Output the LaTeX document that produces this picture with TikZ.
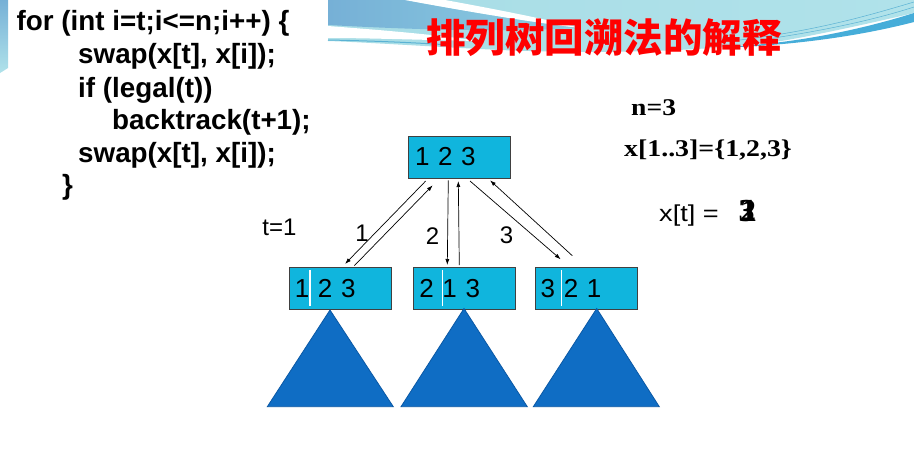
\documentclass[tikz,border=0pt]{standalone}
\usepackage{fontspec}
\usepackage{graphicx}
\setmainfont{Liberation Sans}
\newfontfamily\serifb{Liberation Serif}
\newfontfamily\cjk{Noto Sans CJK SC}
\usetikzlibrary{arrows.meta}
\definecolor{boxcyan}{RGB}{16,181,221}
\definecolor{triblue}{RGB}{15,109,196}
\definecolor{triedge}{RGB}{10,88,165}
\definecolor{swcyan}{RGB}{168,221,230}
\definecolor{swcyanR}{RGB}{176,226,234}
\definecolor{swsteel}{RGB}{118,176,214}
\definecolor{swsteelR}{RGB}{140,206,226}
\definecolor{swdark}{RGB}{70,173,217}
\definecolor{swline}{RGB}{90,178,212}
\tikzset{
  codeline/.style={anchor=base west, inner sep=0pt, font=\bfseries\fontsize{27.8}{32}\selectfont},
  boxnode/.style={draw=black!75, line width=0.8pt, fill=boxcyan, align=left, font=\fontsize{26}{30}\selectfont},
  topbox/.style={boxnode, text width=88pt, inner xsep=7pt, minimum height=42pt},
  lowbox/.style={boxnode, text width=91pt, inner xsep=5.5pt, minimum height=41.7pt},
  arr/.style={line width=0.7pt, -{Latex[length=6pt,width=4pt]}},
  lbl/.style={inner sep=0pt, font=\fontsize{24}{28}\selectfont},
  tri/.style={fill=triblue, draw=triedge, line width=0.8pt, line join=miter},
  sep/.style={draw=white, line width=1.5pt},
  serifbold/.style={anchor=base west, inner sep=0pt, font=\serifb\bfseries\fontsize{24}{28}\selectfont},
  valnode/.style={anchor=base west, inner sep=0pt, font=\serifb\bfseries\fontsize{32}{36}\selectfont}
}
\begin{document}
\begin{tikzpicture}[x=1pt,y=-1pt]
\useasboundingbox (0,0) rectangle (914,453);
\fill[white] (0,0) rectangle (914,453);
% background swoosh
\shade[left color=swcyan, right color=swcyanR]
  (328,0) -- (914,0) -- (914,13) .. controls (850,28) and (800,38) .. (781,41)
  .. controls (700,52) and (600,54) .. (500,50) .. controls (420,46) and (360,42) .. (328,41) -- cycle;
\shade[left color=swsteel, right color=swsteelR]
  (328,0) -- (405,0) .. controls (470,12) and (530,22) .. (580,28)
  .. controls (500,32) and (420,30) .. (328,25) -- cycle;
\fill[white] (405,0) -- (445,0) .. controls (500,10) and (550,20) .. (580,28)
  .. controls (530,22) and (470,12) .. (405,0) -- cycle;
\fill[white] (328,26) .. controls (380,30) and (430,34) .. (480,41)
  .. controls (420,40) and (370,38) .. (328,38) -- cycle;
\draw[swline, line width=1pt] (328,40) .. controls (380,41) and (420,43) .. (450,45);
\fill[swdark] (740,46) .. controls (800,42) and (860,30) .. (914,13) -- (914,22)
  .. controls (860,36) and (800,44) .. (740,47) -- cycle;
\draw[swline, line width=0.5pt] (740,40) .. controls (820,30) and (870,15) .. (914,2);
\draw[swline, line width=0.5pt] (760,40) .. controls (830,30) and (880,18) .. (914,7);
\shade[top color=swsteel, bottom color=swcyanR] (0,0) -- (8,0) -- (8,68) -- (0,73) -- cycle;
% code
\node[codeline] (c1) at (16.5,30) {for (int i=t;i<=n;i++) \{};
\node[codeline] (c2) at (78,63) {swap(x[t], x[i]);};
\node[codeline] (c3) at (78,97) {if (legal(t))};
\node[codeline] (c4) at (112,129) {backtrack(t+1);};
\node[codeline] (c5) at (78,162) {swap(x[t], x[i]);};
\node[codeline] (c6) at (62,194) {\}};
% title
\node[inner sep=0pt, text=red, font=\cjk\bfseries\fontsize{39.5}{44}\selectfont] (title) at (604,38) {排列树回溯法的解释};
% right texts
\node[serifbold] (n3) at (631,115) {\scalebox{1.15}[1]{n=3}};
\node[serifbold] (xarr) at (624,156.7) {\scalebox{1.16}[1]{x[1..3]=\{1,2,3\}}};
\node[anchor=base west, inner sep=0pt, font=\fontsize{23}{27}\selectfont] (xt) at (659,221.7) {\scalebox{1.18}[1]{x[t] =}};
\node[valnode] (v3) at (738.5,221.5) {3};
\node[valnode] (v2) at (740,221.5) {2};
\node[valnode] (v1) at (741,221.5) {1};
% boxes
\node[topbox] (top) at (459,157) {1 2 3};
\node[lowbox] (b1) at (340.3,288.2) {1 2 3};
\node[lowbox] (b2) at (464.8,288.2) {2 1 3};
\node[lowbox] (b3) at (586.2,288.2) {3 2 1};
\draw[sep] (310,270) -- (310,306);
\draw[sep] (442.3,270) -- (442.3,306);
\draw[sep] (561.7,270) -- (561.7,306);
% triangles
\draw[tri] (330,310) -- (393.3,406.7) -- (267.3,406.7) -- cycle;
\draw[tri] (464,308.5) -- (527.3,406.7) -- (401,406.7) -- cycle;
\draw[tri] (596.7,308.5) -- (659.3,406.7) -- (533.3,406.7) -- cycle;
% arrow end points
\coordinate (a1s) at (425.7,181);
\coordinate (a1e) at (345,264);
\coordinate (a2s) at (354.3,265.7);
\coordinate (a2e) at (432.7,185.3);
\coordinate (m1s) at (448.3,180.3);
\coordinate (m1e) at (447.3,265);
\coordinate (m2s) at (459.3,265);
\coordinate (m2e) at (458.3,181);
\coordinate (r1s) at (470,181);
\coordinate (r1e) at (560.7,259.3);
\coordinate (r2s) at (572.3,255.7);
\coordinate (r2e) at (490,180.3);
\draw[arr] (a1s) -- (a1e);
\draw[arr] (a2s) -- (a2e);
\draw[arr] (m1s) -- (m1e);
\draw[arr] (m2s) -- (m2e);
\draw[arr] (r1s) -- (r1e);
\draw[arr] (r2s) -- (r2e);
% labels
\node[lbl] (l1) at (362,233) {1};
\node[lbl] (l2) at (432.5,236.5) {2};
\node[lbl] (l3) at (506.5,235) {3};
\node[lbl] (t1) at (279.5,227) {t=1};
\end{tikzpicture}
\end{document}
